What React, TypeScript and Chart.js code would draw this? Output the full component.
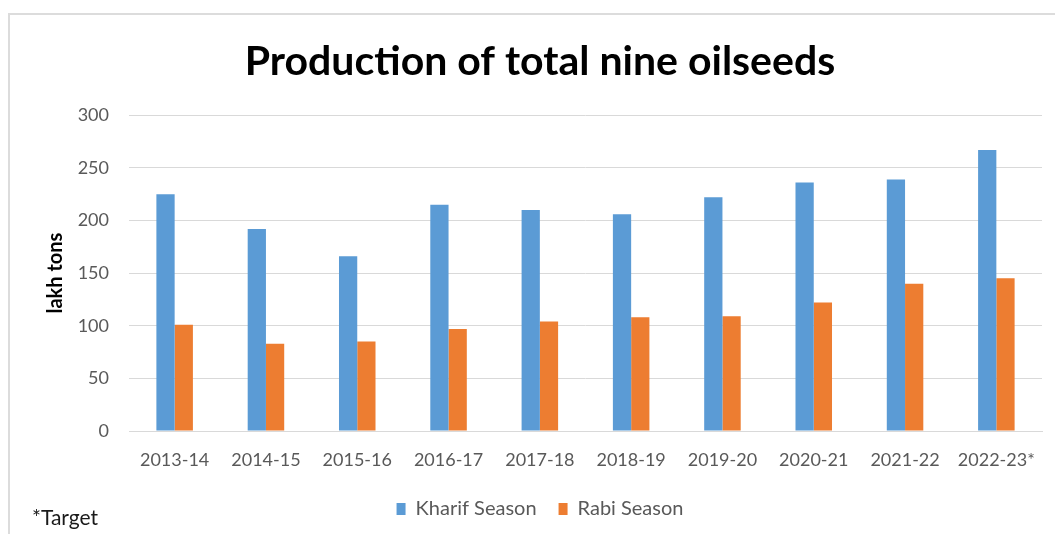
import React, { useEffect, useRef } from "react";
import { Chart, registerables } from "chart.js";

Chart.register(...registerables);

const categories = ["2013-14", "2014-15", "2015-16", "2016-17", "2017-18", "2018-19", "2019-20", "2020-21", "2021-22", "2022-23*"];
const kharif = [225, 192, 166, 215, 210, 206, 222, 236, 239, 267];
const rabi = [101, 83, 85, 97, 104, 108, 109, 122, 140, 145];
const seriesNames = ["Kharif Season", "Rabi Season"];
const titleText = "Production of total nine oilseeds";
const yAxisTitle = "lakh tons";
const footnote = "*Target";

const FONT = "Lato, 'Open Sans', sans-serif";

export default function App() {
  const ref = useRef<HTMLCanvasElement>(null);
  useEffect(() => {
    if (!ref.current) return;
    const chart = new Chart(ref.current, {
      type: "bar",
      data: {
        labels: categories,
        datasets: [
          { label: seriesNames[0], data: kharif, backgroundColor: "#5B9BD5", barPercentage: 1, categoryPercentage: 0.4 },
          { label: seriesNames[1], data: rabi, backgroundColor: "#ED7D31", barPercentage: 1, categoryPercentage: 0.4 },
        ],
      },
      options: {
        animation: false,
        responsive: false,
        maintainAspectRatio: false,
        layout: { padding: { left: 38, right: 13, top: 0, bottom: 5 } },
        plugins: {
          title: {
            display: true,
            text: titleText,
            color: "#000000",
            font: { family: FONT, size: 41, weight: "bold", lineHeight: 1.2 },
            padding: { top: 37, bottom: 29 },
          },
          legend: {
            position: "bottom",
            labels: {
              boxWidth: 9,
              boxHeight: 12,
              padding: 22,
              color: "#595959",
              font: { family: FONT, size: 20 },
            },
          },
          tooltip: { enabled: false },
        },
        scales: {
          x: {
            grid: { display: false, drawTicks: false },
            border: { display: true, color: "#D9D9D9", width: 1 },
            ticks: { color: "#595959", font: { family: FONT, size: 18 }, padding: 18, maxRotation: 0, autoSkip: false },
            afterFit: (axis: any) => { axis.height = 46; },
          },
          y: {
            min: 0,
            max: 300,
            ticks: { stepSize: 50, color: "#595959", font: { family: FONT, size: 18 }, padding: 20 },
            grid: { color: "#D9D9D9", drawTicks: false },
            border: { display: false },
            title: {
              display: true,
              text: yAxisTitle,
              color: "#000000",
              font: { family: FONT, size: 20, weight: "bold" },
              padding: { top: 6, bottom: 0 },
            },
            afterFit: (axis: any) => { axis.width = 91; },
          },
        },
      },
    });
    return () => chart.destroy();
  }, []);

  return (
    <div style={{ position: "fixed", left: 0, top: 0, width: 1055, height: 534, background: "#fff", overflow: "hidden" }}>
      <div style={{ position: "absolute", left: 8, top: 13, width: 1100, height: 600, borderLeft: "2px solid #DCDCDC", borderTop: "2px solid #DCDCDC" }} />
      <canvas ref={ref} width={1055} height={534} style={{ position: "absolute", left: 0, top: 0, width: 1055, height: 534 }} />
      <div style={{ position: "absolute", left: 32, top: 505, fontFamily: FONT, fontSize: 21, lineHeight: "24px", color: "#1a1a1a" }}>{footnote}</div>
    </div>
  );
}
